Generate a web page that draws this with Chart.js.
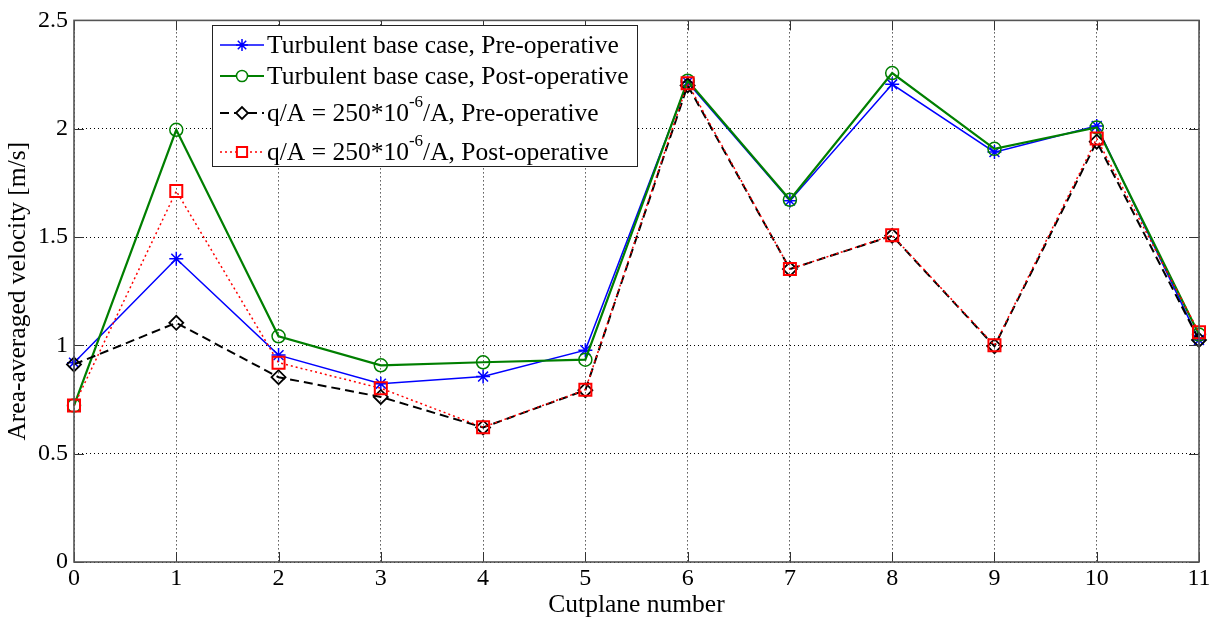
<!DOCTYPE html>
<html>
<head>
<meta charset="utf-8">
<script src="https://cdn.jsdelivr.net/npm/chart.js@4/dist/chart.umd.min.js"></script>
<style>
html,body{margin:0;padding:0;background:#fff;}
#wrap{width:1216px;height:624px;}
</style>
</head>
<body>
<div id="wrap"><canvas id="c" width="1216" height="624"></canvas></div>
<script>
const cutplanes = [0,1,2,3,4,5,6,7,8,9,10,11];
const turbPre  = [0.92,1.40,0.955,0.823,0.856,0.978,2.215,1.668,2.205,1.892,2.013,1.025];
const turbPost = [0.722,1.995,1.042,0.908,0.922,0.934,2.222,1.672,2.257,1.907,2.006,1.05];
const qaPre    = [0.912,1.104,0.853,0.762,0.621,0.793,2.20,1.352,1.506,0.996,1.94,1.025];
const qaPost   = [0.722,1.712,0.92,0.802,0.622,0.795,2.21,1.352,1.508,1.0,1.955,1.06];
const xTicks = [0,1,2,3,4,5,6,7,8,9,10,11];
const yTicks = [0,0.5,1,1.5,2,2.5];
const seriesNames = [
  [["Turbulent base case, Pre-operative",""]],
  [["Turbulent base case, Post-operative",""]],
  [["q/A = 250*10",""],["-6","sup"],["/A, Pre-operative",""]],
  [["q/A = 250*10",""],["-6","sup"],["/A, Post-operative",""]]
];
const FONT = '"Liberation Serif","Times New Roman",serif';

function pts(arr){ return cutplanes.map((c,i)=>({x:c,y:arr[i]})); }

const overlay = {
  id:'overlay',
  afterDraw(chart){
    const {ctx, chartArea:a, scales:{x,y}} = chart;
    ctx.save();
    ctx.strokeStyle='#333'; ctx.lineWidth=1; ctx.setLineDash([]);
    ctx.beginPath();
    xTicks.forEach(v=>{const px=Math.round(x.getPixelForValue(v))+0.5;
      ctx.moveTo(px,a.bottom); ctx.lineTo(px,a.bottom-10);
      ctx.moveTo(px,a.top); ctx.lineTo(px,a.top+10);});
    yTicks.forEach(v=>{const py=Math.round(y.getPixelForValue(v))+0.5;
      ctx.moveTo(a.left,py); ctx.lineTo(a.left+10,py);
      ctx.moveTo(a.right,py); ctx.lineTo(a.right-10,py);});
    ctx.stroke();
    ctx.lineWidth=1.6; ctx.strokeStyle='#555';
    ctx.strokeRect(a.left,a.top,a.right-a.left,a.bottom-a.top);

    // legend
    const lx=212, ly=25, lw=425, lh=141;
    ctx.fillStyle='#fff'; ctx.fillRect(lx,ly,lw,lh);
    ctx.strokeStyle='#222'; ctx.lineWidth=1; ctx.strokeRect(lx+0.5,ly+0.5,lw,lh);
    const rows=[45,76,113,152];
    chart.data.datasets.forEach((ds,i)=>{
      const ry=rows[i];
      ctx.save();
      ctx.strokeStyle=ds.borderColor; ctx.lineWidth=ds.borderWidth;
      ctx.setLineDash(ds.borderDash||[]);
      ctx.beginPath(); ctx.moveTo(220,ry); ctx.lineTo(264,ry); ctx.stroke();
      ctx.setLineDash([]);
      ctx.fillStyle='#fff';
      ctx.lineWidth=ds.pointBorderWidth;
      ctx.strokeStyle=ds.borderColor;
      Chart.helpers.drawPoint(ctx,{pointStyle:ds.pointStyle,radius:ds.pointRadius*0.85,rotation:0,borderWidth:ds.pointBorderWidth},242,ry);
      ctx.restore();
      let tx=267;
      ctx.fillStyle='#000'; ctx.textBaseline='middle'; ctx.textAlign='left';
      seriesNames[i].forEach(([t,k])=>{
        if(k==='sup'){ ctx.font='17px '+FONT; ctx.fillText(t,tx,ry-10); }
        else { ctx.font='25.5px '+FONT; ctx.fillText(t,tx,ry+1); }
        tx+=ctx.measureText(t).width;
      });
    });
    ctx.restore();
  }
};

const bg = {id:'bg',beforeDraw(chart){const c=chart.ctx;c.save();c.fillStyle='#fff';c.fillRect(0,0,chart.width,chart.height);c.restore();}};

new Chart(document.getElementById('c'),{
  type:'line',
  data:{datasets:[
    {label:'Turbulent base case, Pre-operative',data:pts(turbPre),borderColor:'#0000ff',backgroundColor:'#0000ff',borderWidth:1.5,pointStyle:'star',pointRadius:7,pointBorderWidth:1.5,order:3},
    {label:'Turbulent base case, Post-operative',data:pts(turbPost),borderColor:'#007f00',backgroundColor:'rgba(0,0,0,0)',borderWidth:2.2,pointStyle:'circle',pointRadius:6.5,pointBorderWidth:1.5,order:2},
    {label:'q/A = 250*10^-6/A, Pre-operative',data:pts(qaPre),borderColor:'#000000',backgroundColor:'rgba(0,0,0,0)',borderWidth:2,borderDash:[9,5],pointStyle:'rectRot',pointRadius:7,pointBorderWidth:1.8,order:1},
    {label:'q/A = 250*10^-6/A, Post-operative',data:pts(qaPost),borderColor:'#ff0000',backgroundColor:'rgba(0,0,0,0)',borderWidth:1.5,borderDash:[2,3],pointStyle:'rect',pointRadius:8.5,pointBorderWidth:2,order:0}
  ].map(d=>Object.assign(d,{fill:false,tension:0,clip:false,pointHoverRadius:d.pointRadius}))},
  options:{
    responsive:false,animation:false,
    layout:{padding:{top:18,right:17,left:0,bottom:0}},
    plugins:{legend:{display:false},tooltip:{enabled:false}},
    scales:{
      x:{type:'linear',min:0,max:11,
        afterBuildTicks(s){s.ticks=xTicks.map(v=>({value:v}));},
        afterFit(s){s.height=62;},
        ticks:{color:'#000',font:{family:FONT,size:24},padding:2,maxRotation:0,callback:v=>String(v)},
        grid:{color:'#000',lineWidth:1,drawTicks:false},
        border:{display:false,dash:[1,3]},
        title:{display:true,text:'Cutplane number',color:'#000',font:{family:FONT,size:25.5},padding:{top:0,bottom:3}}
      },
      y:{type:'linear',min:0,max:2.5,
        afterBuildTicks(s){s.ticks=yTicks.map(v=>({value:v}));},
        afterFit(s){s.width=74;},
        ticks:{color:'#000',font:{family:FONT,size:24},padding:6,callback:v=>String(v)},
        grid:{color:'#000',lineWidth:1,drawTicks:false},
        border:{display:false,dash:[1,3]},
        title:{display:true,text:'Area-averaged velocity [m/s]',color:'#000',font:{family:FONT,size:25.5},padding:{top:3,bottom:0}}
      }
    }
  },
  plugins:[bg,overlay]
});
</script>
</body>
</html>
